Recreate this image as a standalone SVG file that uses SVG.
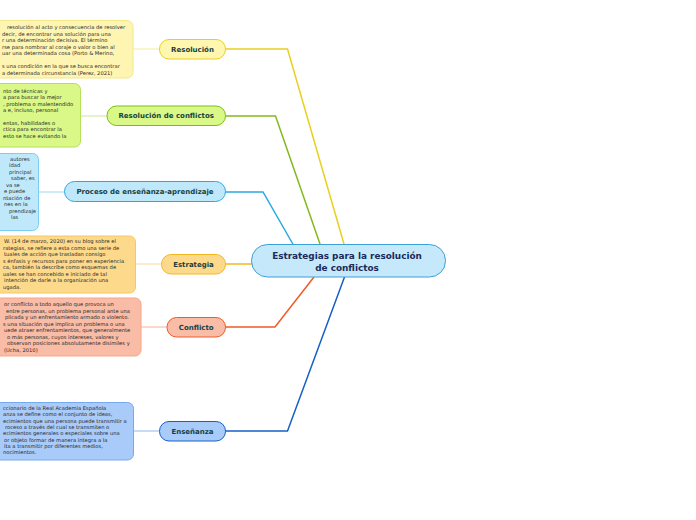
<svg xmlns="http://www.w3.org/2000/svg" width="696" height="520" viewBox="0 0 696 520">
<style>
.bt{font-family:"DejaVu Sans",Verdana,sans-serif;font-size:5.2px;fill:#2a2a2a}
.nt{font-family:"DejaVu Sans",Verdana,sans-serif;font-size:7px;font-weight:bold;fill:#173f3f}
.ct{font-family:"DejaVu Sans",Verdana,sans-serif;font-size:8.9px;font-weight:bold;fill:#1a2a5a}
.c{fill:none;stroke-width:1.5}
.l{fill:none;stroke-width:1}
</style>
<rect width="696" height="520" fill="#ffffff"/>
<g id="connectors">
<path class="c" stroke="#e8d020" d="M225,49 H287.5 L344,244"/>
<path class="c" stroke="#84b820" d="M225,116 H275.5 L320,244"/>
<path class="c" stroke="#2aa9e0" d="M225,192 H263 L294,246"/>
<path class="c" stroke="#f5b820" d="M225,264 H252"/>
<path class="c" stroke="#f05a28" d="M225,327 H275 L314,277"/>
<path class="c" stroke="#1560c8" d="M225,431 H287.5 L344.5,277"/>
<path class="l" stroke="#f5ec98" d="M133,49 H160"/>
<path class="l" stroke="#c4e89a" d="M80,116 H107"/>
<path class="l" stroke="#9fd9f3" d="M38,192 H65"/>
<path class="l" stroke="#fbd79a" d="M135,264 H162"/>
<path class="l" stroke="#f7b09a" d="M141,327 H167"/>
<path class="l" stroke="#92b8ee" d="M133,431 H159"/>
</g>
<g id="center">
<rect x="251.5" y="244.5" width="194" height="32.5" rx="16" fill="#c5e9fa" stroke="#3a9fd6" stroke-width="1"/>
<text class="ct" x="347" y="259.3" text-anchor="middle">Estrategias para la resolución</text>
<text class="ct" x="347" y="270.7" text-anchor="middle">de conflictos</text>
</g>
<g id="n-resolucion">
<rect x="159.5" y="39.5" width="66" height="19.5" rx="9.5" fill="#fff6b0" stroke="#e8d020"/>
<text class="nt" x="192.5" y="51.8" text-anchor="middle">Resolución</text>
</g>
<g id="n-resolucion-conflictos">
<rect x="107" y="106" width="118.5" height="19.5" rx="9.5" fill="#d9f887" stroke="#7dbd1a"/>
<text class="nt" x="166.2" y="118.3" text-anchor="middle">Resolución de conflictos</text>
</g>
<g id="n-proceso">
<rect x="64.5" y="181.5" width="161" height="20" rx="10" fill="#bfe9fb" stroke="#2aa9e0"/>
<text class="nt" x="145" y="194" text-anchor="middle">Proceso de enseñanza-aprendizaje</text>
</g>
<g id="n-estrategia">
<rect x="161.5" y="254.5" width="64" height="19.5" rx="9.5" fill="#fdd98c" stroke="#f5b820"/>
<text class="nt" x="193.5" y="266.8" text-anchor="middle">Estrategia</text>
</g>
<g id="n-conflicto">
<rect x="167" y="317.5" width="58.5" height="19.5" rx="9.5" fill="#f9bca6" stroke="#f05a28"/>
<text class="nt" x="196.2" y="329.8" text-anchor="middle">Conflicto</text>
</g>
<g id="n-ensenanza">
<rect x="159.5" y="421.5" width="66" height="19.5" rx="9.5" fill="#a9cbfa" stroke="#1560c8"/>
<text class="nt" x="192.5" y="433.8" text-anchor="middle">Enseñanza</text>
</g>
<g id="t-resolucion">
<rect x="-150" y="20.5" width="283" height="57.5" rx="6" fill="#fef5b2" stroke="#f3e88a"/>
<text class="bt" x="7" y="29">resolución al acto y consecuencia de resolver</text>
<text class="bt" x="2" y="35.5">decir, de encontrar una solución para una</text>
<text class="bt" x="2" y="42">r una determinación decisiva. El término</text>
<text class="bt" x="2" y="48.5">rse para nombrar al coraje o valor o bien al</text>
<text class="bt" x="2" y="55">uar una determinada cosa (Porto &amp; Merino,</text>
<text class="bt" x="2" y="68">s una condición en la que se busca encontrar</text>
<text class="bt" x="2" y="74.5">a determinada circunstancia (Perez, 2021)</text>
</g>
<g id="t-resolucion-conflictos">
<rect x="-150" y="83.5" width="230.5" height="63.5" rx="6" fill="#d9f887" stroke="#b5e05a"/>
<text class="bt" x="3" y="93">nto de técnicas y</text>
<text class="bt" x="3" y="99.4">a para buscar la mejor</text>
<text class="bt" x="3" y="105.8">, problema o malentendido</text>
<text class="bt" x="3" y="112.2">a e, incluso, personal</text>
<text class="bt" x="3" y="125">entas, habilidades o</text>
<text class="bt" x="3" y="131.4">ctica para encontrar la</text>
<text class="bt" x="3" y="137.8">esto se hace evitando la</text>
</g>
<g id="t-proceso">
<rect x="-150" y="153.5" width="188.5" height="77" rx="6" fill="#bfe9fb" stroke="#7ccdf2"/>
<text class="bt" x="10" y="161">autores</text>
<text class="bt" x="9" y="167.4">idad</text>
<text class="bt" x="9" y="173.9">principal</text>
<text class="bt" x="11" y="180.3">saber, es</text>
<text class="bt" x="6" y="186.8">va se</text>
<text class="bt" x="4" y="193.2">e puede</text>
<text class="bt" x="3" y="199.7">ntación de</text>
<text class="bt" x="4" y="206.1">nes en la</text>
<text class="bt" x="9" y="212.6">prendizaje</text>
<text class="bt" x="11" y="219">las</text>
</g>
<g id="t-estrategia">
<rect x="-150" y="236" width="285.5" height="57" rx="6" fill="#fdd98c" stroke="#f8c860"/>
<text class="bt" x="4" y="243">W. (14 de marzo, 2020) en su blog sobre el</text>
<text class="bt" x="3" y="249.5">rategias, se refiere a esta como una serie de</text>
<text class="bt" x="4" y="256">tuales de acción que trasladan consigo</text>
<text class="bt" x="3" y="262.5">s énfasis y recursos para poner en experiencia</text>
<text class="bt" x="3" y="269">ca, también la describe como esquemas de</text>
<text class="bt" x="3" y="275.5">uales se han concebido e iniciado de tal</text>
<text class="bt" x="4" y="282">intención de darle a la organización una</text>
<text class="bt" x="3" y="288.5">ugada.</text>
</g>
<g id="t-conflicto">
<rect x="-150" y="298" width="291" height="58" rx="6" fill="#f9bca6" stroke="#f8a486"/>
<text class="bt" x="4" y="306">or conflicto a todo aquello que provoca un</text>
<text class="bt" x="6" y="312.6">entre personas, un problema personal ante una</text>
<text class="bt" x="5" y="319.1">plicada y un enfrentamiento armado o violento.</text>
<text class="bt" x="3" y="325.7">s una situación que implica un problema o una</text>
<text class="bt" x="4" y="332.2">uede atraer enfrentamientos, que generalmente</text>
<text class="bt" x="7" y="338.8">o más personas, cuyos intereses, valores y</text>
<text class="bt" x="7" y="345.3">observan posiciones absolutamente disímiles y</text>
<text class="bt" x="4" y="351.9">(Ucha, 2010)</text>
</g>
<g id="t-ensenanza">
<rect x="-150" y="402.5" width="283.5" height="57.5" rx="6" fill="#a9cbfa" stroke="#78a8ee"/>
<text class="bt" x="3" y="410">ccionario de la Real Academia Española</text>
<text class="bt" x="3" y="416.3">anza se define como el conjunto de ideas,</text>
<text class="bt" x="3" y="422.6">ecimientos que una persona puede transmitir a</text>
<text class="bt" x="5" y="428.9">roceso a través del cual se transmiten o</text>
<text class="bt" x="3" y="435.2">ecimientos generales o especiales sobre una</text>
<text class="bt" x="4" y="441.5">or objeto formar de manera integra a la</text>
<text class="bt" x="4" y="447.8">ita a transmitir por diferentes medios,</text>
<text class="bt" x="3" y="454.1">nocimientos.</text>
</g>
</svg>
